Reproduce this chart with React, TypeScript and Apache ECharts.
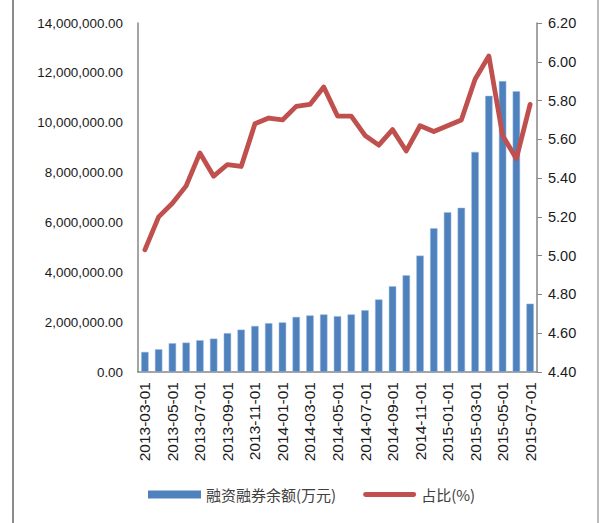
import React, { useEffect, useRef } from "react";
import * as echarts from "echarts";

const categories = [
  "2013-03-01", "2013-04-01", "2013-05-01", "2013-06-01", "2013-07-01", "2013-08-01",
  "2013-09-01", "2013-10-01", "2013-11-01", "2013-12-01", "2014-01-01", "2014-02-01",
  "2014-03-01", "2014-04-01", "2014-05-01", "2014-06-01", "2014-07-01", "2014-08-01",
  "2014-09-01", "2014-10-01", "2014-11-01", "2014-12-01", "2015-01-01", "2015-02-01",
  "2015-03-01", "2015-04-01", "2015-05-01", "2015-06-01", "2015-07-01",
];

const balance = [
  805000, 913000, 1155000, 1180000, 1275000, 1340000, 1560000, 1700000, 1850000, 1960000,
  1990000, 2210000, 2270000, 2310000, 2240000, 2310000, 2480000, 2910000, 3440000, 3880000,
  4670000, 5770000, 6410000, 6590000, 8830000, 11080000, 11670000, 11260000, 2740000,
];

const ratio = [
  5.03, 5.2, 5.27, 5.36, 5.53, 5.41, 5.47, 5.46, 5.68, 5.71,
  5.7, 5.77, 5.78, 5.87, 5.72, 5.72, 5.62, 5.57, 5.65, 5.54,
  5.67, 5.64, 5.67, 5.7, 5.91, 6.03, 5.62, 5.5, 5.78,
];

const seriesNames = ["融资融券余额(万元)", "占比(%)"];

const FONT = "'Liberation Sans', Arial, sans-serif";
const CJK = "'Noto Sans CJK SC', 'Liberation Sans', sans-serif";

const LINE_ICON =
  "path://M2.5,0 L52.5,0 A2.5,2.5 0 0 1 52.5,5 L2.5,5 A2.5,2.5 0 0 1 2.5,0 Z";

export default function App() {
  const ref = useRef<HTMLDivElement>(null);

  useEffect(() => {
    document.body.style.margin = "0";
    if (!ref.current) return;
    const chart = echarts.init(ref.current, null, { renderer: "svg" });
    chart.setOption({
      animation: false,
      backgroundColor: "#ffffff",
      grid: { left: 138, right: 72, top: 23, bottom: 151, containLabel: false },
      graphic: [
        { type: "line", shape: { x1: 13, y1: 0, x2: 13, y2: 523 }, style: { stroke: "#8c8c8c", lineWidth: 2 } },
        { type: "line", shape: { x1: 598, y1: 0, x2: 598, y2: 523 }, style: { stroke: "#a6a6a6", lineWidth: 1.5 } },
      ],
      legend: {
        left: 143,
        top: 482,
        itemWidth: 53,
        itemHeight: 8,
        itemGap: 27,
        textStyle: { fontFamily: CJK, fontSize: 15, color: "#404040" },
        itemStyle: { borderWidth: 0 },
        data: [
          { name: seriesNames[0], icon: "rect" },
          { name: seriesNames[1], icon: LINE_ICON },
        ],
      },
      xAxis: {
        type: "category",
        data: categories,
        boundaryGap: true,
        axisLine: { show: true, lineStyle: { color: "#868686", width: 1.5 } },
        axisTick: { show: false },
        axisLabel: {
          rotate: 90,
          interval: 1,
          margin: 10,
          fontFamily: FONT,
          fontSize: 15.5,
          color: "#1a1a1a",
        },
      },
      yAxis: [
        {
          type: "value",
          min: 0,
          max: 14000000,
          interval: 2000000,
          splitLine: { show: false },
          axisLine: { show: true, lineStyle: { color: "#868686", width: 1.5 } },
          axisTick: { show: false },
          axisLabel: {
            margin: 15,
            fontFamily: FONT,
            fontSize: 13.4,
            color: "#1a1a1a",
            formatter: (v: number) =>
              v.toLocaleString("en-US", { minimumFractionDigits: 2, maximumFractionDigits: 2 }),
          },
        },
        {
          type: "value",
          position: "right",
          min: 4.4,
          max: 6.2,
          interval: 0.2,
          splitLine: { show: false },
          axisLine: { show: true, lineStyle: { color: "#868686", width: 1.5 } },
          axisTick: { show: true, inside: false, length: 5, lineStyle: { color: "#868686" } },
          axisLabel: {
            margin: 11,
            fontFamily: FONT,
            fontSize: 14.5,
            color: "#1a1a1a",
            formatter: (v: number) => v.toFixed(2),
          },
        },
      ],
      series: [
        {
          name: seriesNames[0],
          type: "bar",
          yAxisIndex: 0,
          data: balance,
          barWidth: "54%",
          itemStyle: { color: "#4F81BD", borderColor: "#9fbce0", borderWidth: 0.5 },
        },
        {
          name: seriesNames[1],
          type: "line",
          yAxisIndex: 1,
          data: ratio,
          symbol: "none",
          showSymbol: false,
          lineStyle: { color: "#C0504D", width: 4.8, cap: "round", join: "round" },
          itemStyle: { color: "#C0504D" },
        },
      ],
    });
    return () => chart.dispose();
  }, []);

  return (
    <div
      ref={ref}
      style={{ position: "absolute", left: 0, top: 0, width: 609, height: 523 }}
    />
  );
}
